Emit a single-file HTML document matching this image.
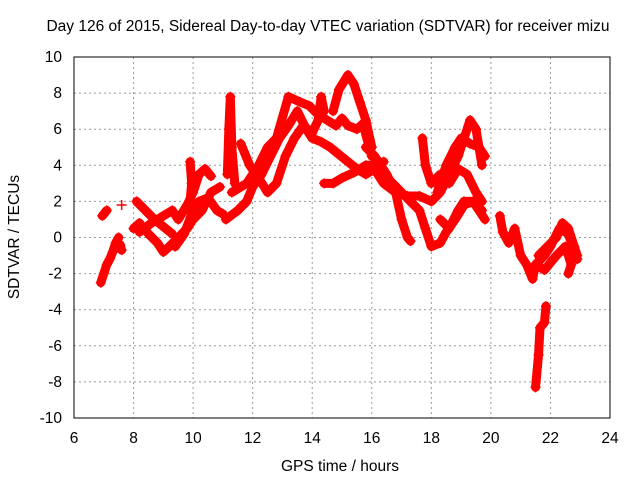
<!DOCTYPE html>
<html><head><meta charset="utf-8"><style>
body{margin:0;background:#fff}
svg{display:block;font-family:"Liberation Sans",sans-serif}
</style></head><body>
<svg id="chart" width="640" height="480" viewBox="0 0 640 480">
<rect width="640" height="480" fill="#fff"/>
<g id="grid"></g>
<g id="series"></g>
<rect x="74" y="57" width="536" height="361" fill="none" stroke="#000" stroke-width="1"/>
<g id="ticks" font-size="15.5" fill="#000"></g>
<text x="328" y="31" text-anchor="middle" font-size="15.5">Day 126 of 2015, Sidereal Day-to-day VTEC variation (SDTVAR) for receiver mizu</text>
<text x="340" y="471" text-anchor="middle" font-size="15.5">GPS time / hours</text>
<text transform="translate(19,237) rotate(-90)" text-anchor="middle" font-size="15.5">SDTVAR / TECUs</text>
</svg>
<script>
const xTicks=[6,8,10,12,14,16,18,20,22,24];
const yTicks=[-10,-8,-6,-4,-2,0,2,4,6,8,10];
const trackA=[[6.9,-2.5],[7.0,-2],[7.1,-1.5],[7.2,-1.2],[7.3,-0.8],[7.4,-0.3],[7.5,0]];
const trackA2=[[6.95,1.2],[7.05,1.4],[7.1,1.5]];
const trackA3=[[7.6,1.8]];
const trackA4=[[7.6,-0.7],[7.55,-0.4]];
const trackB=[[8.0,0.5],[8.2,0.8],[8.5,0.2],[8.8,-0.3],[9.0,-0.8],[9.2,-0.5],[9.5,0],[9.8,0.5],[10,1],[10.3,1.5],[10.6,2.5],[10.9,2.8]];
const trackC=[[8.1,2],[8.4,1.5],[8.7,1],[9.0,0.6],[9.3,0.2]];
const trackD=[[8.2,0.3],[8.6,0.8],[9.0,1.2],[9.3,1.5],[9.5,1],[9.8,1.8],[10,2.5],[10.2,3.5],[10.4,3.8],[10.6,3.4]];
const trackE=[[9.4,-0.5],[9.7,0.2],[10.0,1.5],[10.2,2],[10.5,2.2],[10.8,1.5],[11.0,1.3]];
const trackE2=[[9.9,2],[9.95,3],[9.9,4.2]];
const trackF=[[11.15,3.5],[11.2,6],[11.25,7.8],[11.3,5],[11.4,3]];
const trackG=[[11.1,1],[11.5,1.5],[11.8,2],[12,2.8],[12.3,3.5],[12.6,4.5],[12.9,5.5],[13.2,6.2],[13.5,7],[13.8,6],[14,5.5],[14.3,5.3],[14.6,5],[14.9,4.6],[15.2,4.2],[15.5,3.8],[15.8,3.5],[16.1,3.8],[16.4,4.2]];
const trackH=[[11.3,2.5],[11.8,3],[12.2,4],[12.5,5],[12.8,5.5],[13.2,7.8],[13.6,7.5],[13.9,7.3],[14.2,6.8],[14.5,6.5],[14.8,6.2],[15.0,6.6],[15.2,6.2],[15.5,6],[15.7,6.3],[16,4.5]];
const trackI=[[11.6,5.2],[11.9,4],[12.2,3.3],[12.5,2.5],[12.8,3],[13.1,4.5],[13.4,5.5],[13.7,6.2],[14.0,5.8],[14.2,6.5],[14.3,7.8],[14.4,7]];
const trackSpike=[[14.7,7],[14.9,8.2],[15.2,9],[15.4,8.5],[15.6,7.5],[15.8,6.5],[16,5]];
const trackJ=[[14.4,3],[14.7,3],[15,3.3],[15.4,3.6],[15.8,4],[16.1,4],[16.4,3.5],[16.7,3],[17,2.5],[17.3,2],[17.6,1.5],[17.8,0.5],[18.0,-0.5],[18.3,-0.3],[18.5,0.3],[18.8,1],[19.1,1.8],[19.4,2],[19.7,1.5]];
const trackK=[[15.8,5],[16.1,4.5],[16.5,3.5],[16.8,2.5],[17.0,1],[17.2,0],[17.3,-0.2]];
const trackL=[[16,4],[16.4,3],[16.8,2.5],[17.2,2.3],[17.6,2.3],[18,2],[18.3,2.5],[18.6,3.5],[18.9,4.5],[19.1,5.5],[19.3,6.5],[19.5,6],[19.7,4]];
const trackM=[[17.7,5.5],[17.8,4],[18,3],[18.3,3.5],[18.6,3],[18.9,3.8],[19.2,3.5],[19.5,2.5],[19.7,2]];
const trackN=[[18.2,2.5],[18.5,4],[18.8,5],[19.0,5.5],[19.3,5.2],[19.6,5],[19.8,4.5]];
const trackO=[[18.3,1],[18.6,0.5],[18.9,1.5],[19.1,2],[19.4,2],[19.6,1.5],[19.8,1]];
const trackP=[[20.3,1.2],[20.4,0.3],[20.6,-0.3],[20.8,0.5],[21.0,-1],[21.2,-1.5],[21.4,-2.3],[21.5,-1.5],[21.8,-1],[22,-0.5],[22.3,0.5],[22.6,0.2],[22.9,-1.2]];
const trackQ=[[21.6,-1],[21.9,-0.5],[22.2,0],[22.4,0.8],[22.6,0.5],[22.8,-0.5],[22.9,-1]];
const trackR=[[21.5,-1.5],[21.8,-1.8],[22.2,-1],[22.5,-0.5],[22.7,-1.5],[22.6,-2]];
const trackS=[[21.5,-8.3],[21.6,-6.5],[21.65,-5],[21.8,-4.7],[21.85,-3.8]];
const tracks=[trackA,trackA2,trackA3,trackA4,trackB,trackC,trackD,trackE,trackE2,trackF,trackG,trackH,trackI,trackSpike,trackJ,trackK,trackL,trackM,trackN,trackO,trackP,trackQ,trackR,trackS];

const NS="http://www.w3.org/2000/svg";
const X0=74,X1=610,Y0=418,Y1=57;
function sx(v){return X0+(v-6)/(24-6)*(X1-X0);}
function sy(v){return Y0-(v+10)/20*(Y0-Y1);}
const grid=document.getElementById('grid'),ticks=document.getElementById('ticks'),ser=document.getElementById('series');
function mk(t,a,p){const e=document.createElementNS(NS,t);for(const k in a)e.setAttribute(k,a[k]);p.appendChild(e);return e;}
xTicks.forEach(v=>{
  const x=sx(v);
  if(v>6&&v<24){const l=mk('line',{x1:x,x2:x,y1:Y1,y2:Y0,stroke:'#999','stroke-dasharray':'2,3'},grid);
  
  }
  const t=mk('text',{x:x,y:443,'text-anchor':'middle'},ticks);t.textContent=v;
  
  
});
yTicks.forEach(v=>{
  const y=sy(v);
  if(v>-10&&v<10){const l=mk('line',{x1:X0,x2:X1,y1:y,y2:y,stroke:'#999','stroke-dasharray':'2,3'},grid);
  
  }
  const t=mk('text',{x:62,y:y+5,'text-anchor':'end'},ticks);t.textContent=v;
  
  
});
tracks.forEach(tr=>{
  if(tr.length>1){
    const pl=mk('polyline',{points:tr.map(p=>sx(p[0])+','+sy(p[1])).join(' '),fill:'none',stroke:'#ff0000','stroke-width':9,'stroke-linejoin':'round','stroke-linecap':'round'},ser);
    
    
  }
  tr.forEach(p=>{
    const x=sx(p[0]),y=sy(p[1]);
    const m=mk('path',{d:`M${x-5},${y}H${x+5}M${x},${y-5}V${y+5}`,stroke:'#ff0000','stroke-width':1.5},ser);
    
    
  });
});
</script>
</body></html>
